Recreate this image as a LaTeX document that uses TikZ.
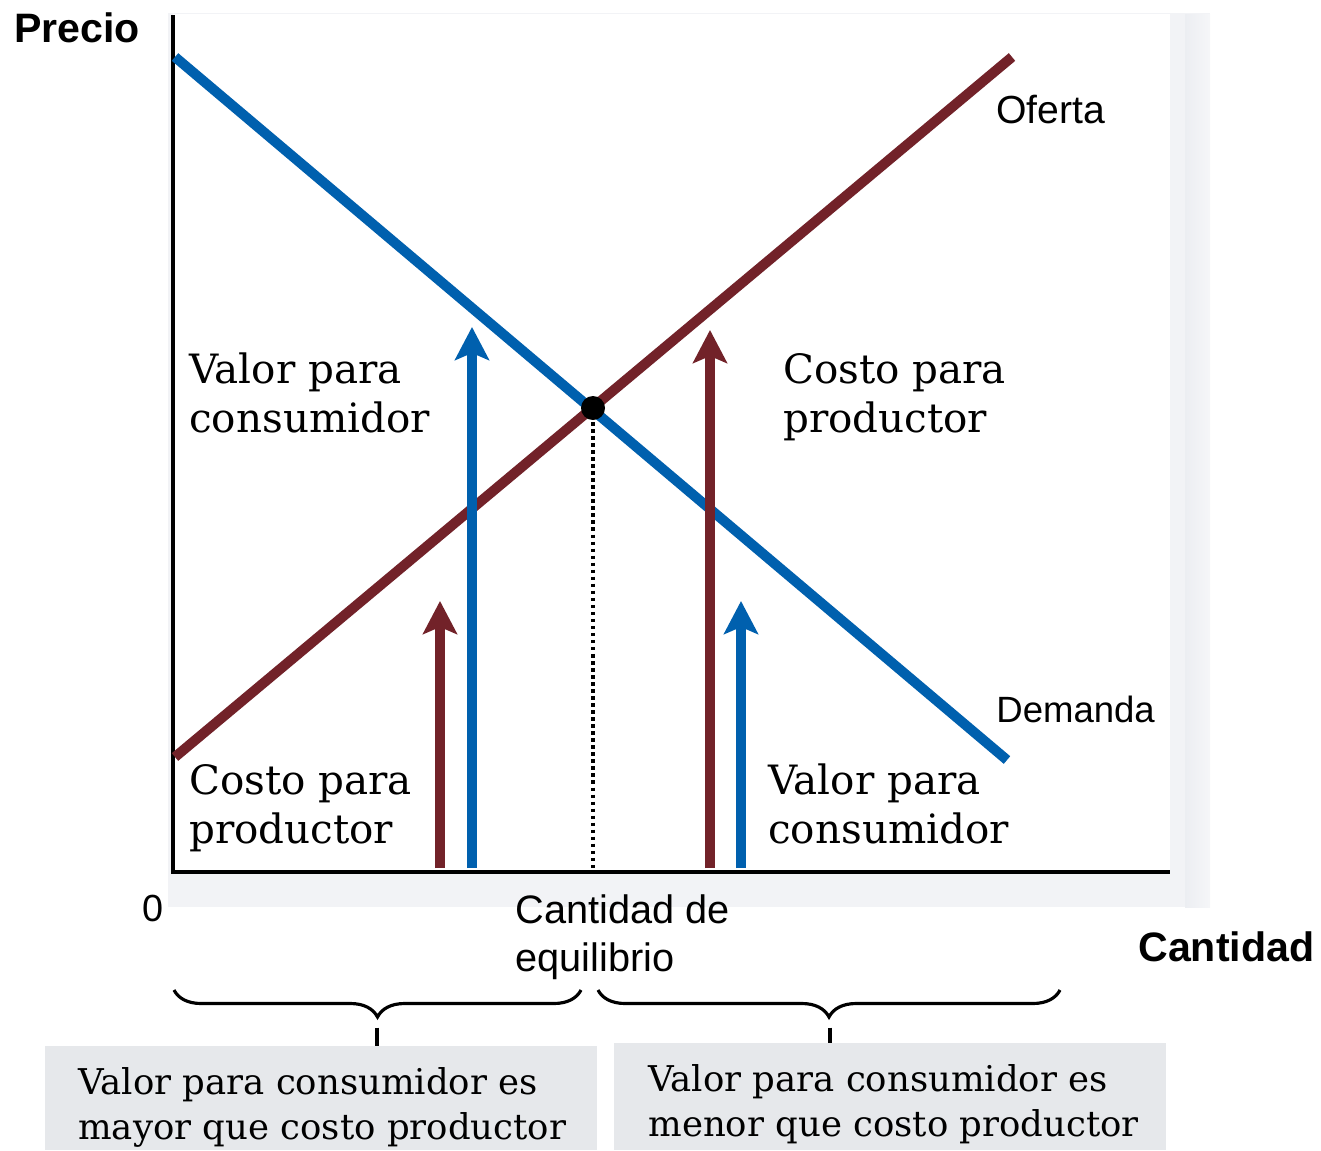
\documentclass[tikz,border=0pt]{standalone}
\usepackage{fontspec}
\setmainfont{Liberation Sans}
\newfontfamily\libroFont{DejaVu Serif}
\usetikzlibrary{arrows.meta,decorations.pathreplacing}
\definecolor{demandaAzul}{RGB}{0,96,174}
\definecolor{ofertaRojo}{RGB}{114,34,41}
\definecolor{cajaGris}{RGB}{230,232,235}
\definecolor{fondoGris}{RGB}{236,238,242}
\newcommand{\pxUnit}[0]{0.02cm}
\newcommand{\grande}[0]{\libroFont\fontsize{23}{27.8}\selectfont}
\newcommand{\chico}[0]{\libroFont\fontsize{20.2}{25.5}\selectfont}

\begin{document}
\begin{tikzpicture}[x=\pxUnit, y=-\pxUnit]
  \tikzset{curva/.style={line width=5.7pt},
    flecha/.style={line width=5.6pt,-{Stealth[length=0.66cm,width=0.68cm,inset=0.14cm]}},
    eje/.style={line width=2pt},
    texto/.style={inner sep=0pt,anchor=base west,align=left},
    eti/.style={texto,font=\fontsize{21.5}{27.2}\selectfont},
    titulo/.style={texto,font=\bfseries\fontsize{23.4}{28}\selectfont},
    llave/.style={line width=1.8pt,decorate,decoration={brace,mirror,amplitude=0.54cm}}}
  \useasboundingbox (0,0) rectangle (1321,1150);
  \fill[fondoGris!70!white] (168,13) rectangle (1210,907);
  \shade[left color=fondoGris, right color=fondoGris!50!white] (1185,14) rectangle (1210,907);
  \fill[white] (173,14) rectangle (1170,872);
  \coordinate (origen) at (173,872);
  \coordinate (ytop) at (173,15);
  \coordinate (xfin) at (1170,872);
  \draw[eje] (ytop) -- (origen) -- (xfin);
  \coordinate (d1) at (175,57);
  \coordinate (d2) at (1007,760);
  \coordinate (s1) at (175,757);
  \coordinate (s2) at (1012,57);
  \coordinate (eq) at (593,408);
  \coordinate (eqbase) at (593,872);
  \draw[line width=2pt,dash pattern=on 2pt off 2pt] (eq) -- (eqbase);
  \draw[curva,ofertaRojo] (s1) -- (s2);
  \draw[curva,demandaAzul] (d1) -- (d2);
  \fill (eq) circle (12);
  \coordinate (a1) at (440,868); \coordinate (a1t) at (440,601);
  \coordinate (a2) at (472,868); \coordinate (a2t) at (472,327);
  \coordinate (a3) at (710,868); \coordinate (a3t) at (710,330);
  \coordinate (a4) at (741,868); \coordinate (a4t) at (741,601);
  \draw[flecha,ofertaRojo] (a1) -- (a1t);
  \draw[flecha,demandaAzul] (a2) -- (a2t);
  \draw[flecha,ofertaRojo] (a3) -- (a3t);
  \draw[flecha,demandaAzul] (a4) -- (a4t);
  \node[titulo] (precio) at (14,42) {Precio};
  \node[titulo] (cantidad) at (1138,961) {Cantidad};
  \node[eti,font=\fontsize{22.3}{27}\selectfont] (oferta) at (996,123) {Oferta};
  \node[eti,font=\fontsize{20.8}{27}\selectfont] (demanda) at (996,722) {Demanda};
  \node[eti] (cero) at (142,921) {0};
  \node[eti,font=\fontsize{22.6}{27.2}\selectfont] (equilibrio) at (515,971) {Cantidad de\\equilibrio};
  \node[texto,font=\grande] (valorA) at (189,432) {Valor para\\consumidor};
  \node[texto,font=\grande] (costoA) at (783,432) {Costo para\\productor};
  \node[texto,font=\grande] (costoB) at (189,843) {Costo para\\productor};
  \node[texto,font=\grande] (valorB) at (768,843) {Valor para\\consumidor};
  \fill[cajaGris] (45,1046) rectangle (597,1150);
  \fill[cajaGris] (614,1043) rectangle (1166,1150);
  \node[texto,font=\chico] (mayor) at (78,1139) {Valor para consumidor es\\mayor que costo productor};
  \node[texto,font=\chico] (menor) at (648,1136) {Valor para consumidor es\\menor que costo productor};
  \draw[llave] (174,990) -- (581,990);
  \draw[llave] (598,990) -- (1060,990);
  \coordinate (punta1) at (377,1017); \coordinate (caja1) at (377,1046);
  \coordinate (punta2) at (830,1017); \coordinate (caja2) at (830,1043);
  \draw[line width=1.8pt,dash pattern=on 0pt off 6pt on 30pt] (punta1) -- (caja1);
  \draw[line width=1.8pt,dash pattern=on 0pt off 6pt on 30pt] (punta2) -- (caja2);
\end{tikzpicture}
\end{document}
